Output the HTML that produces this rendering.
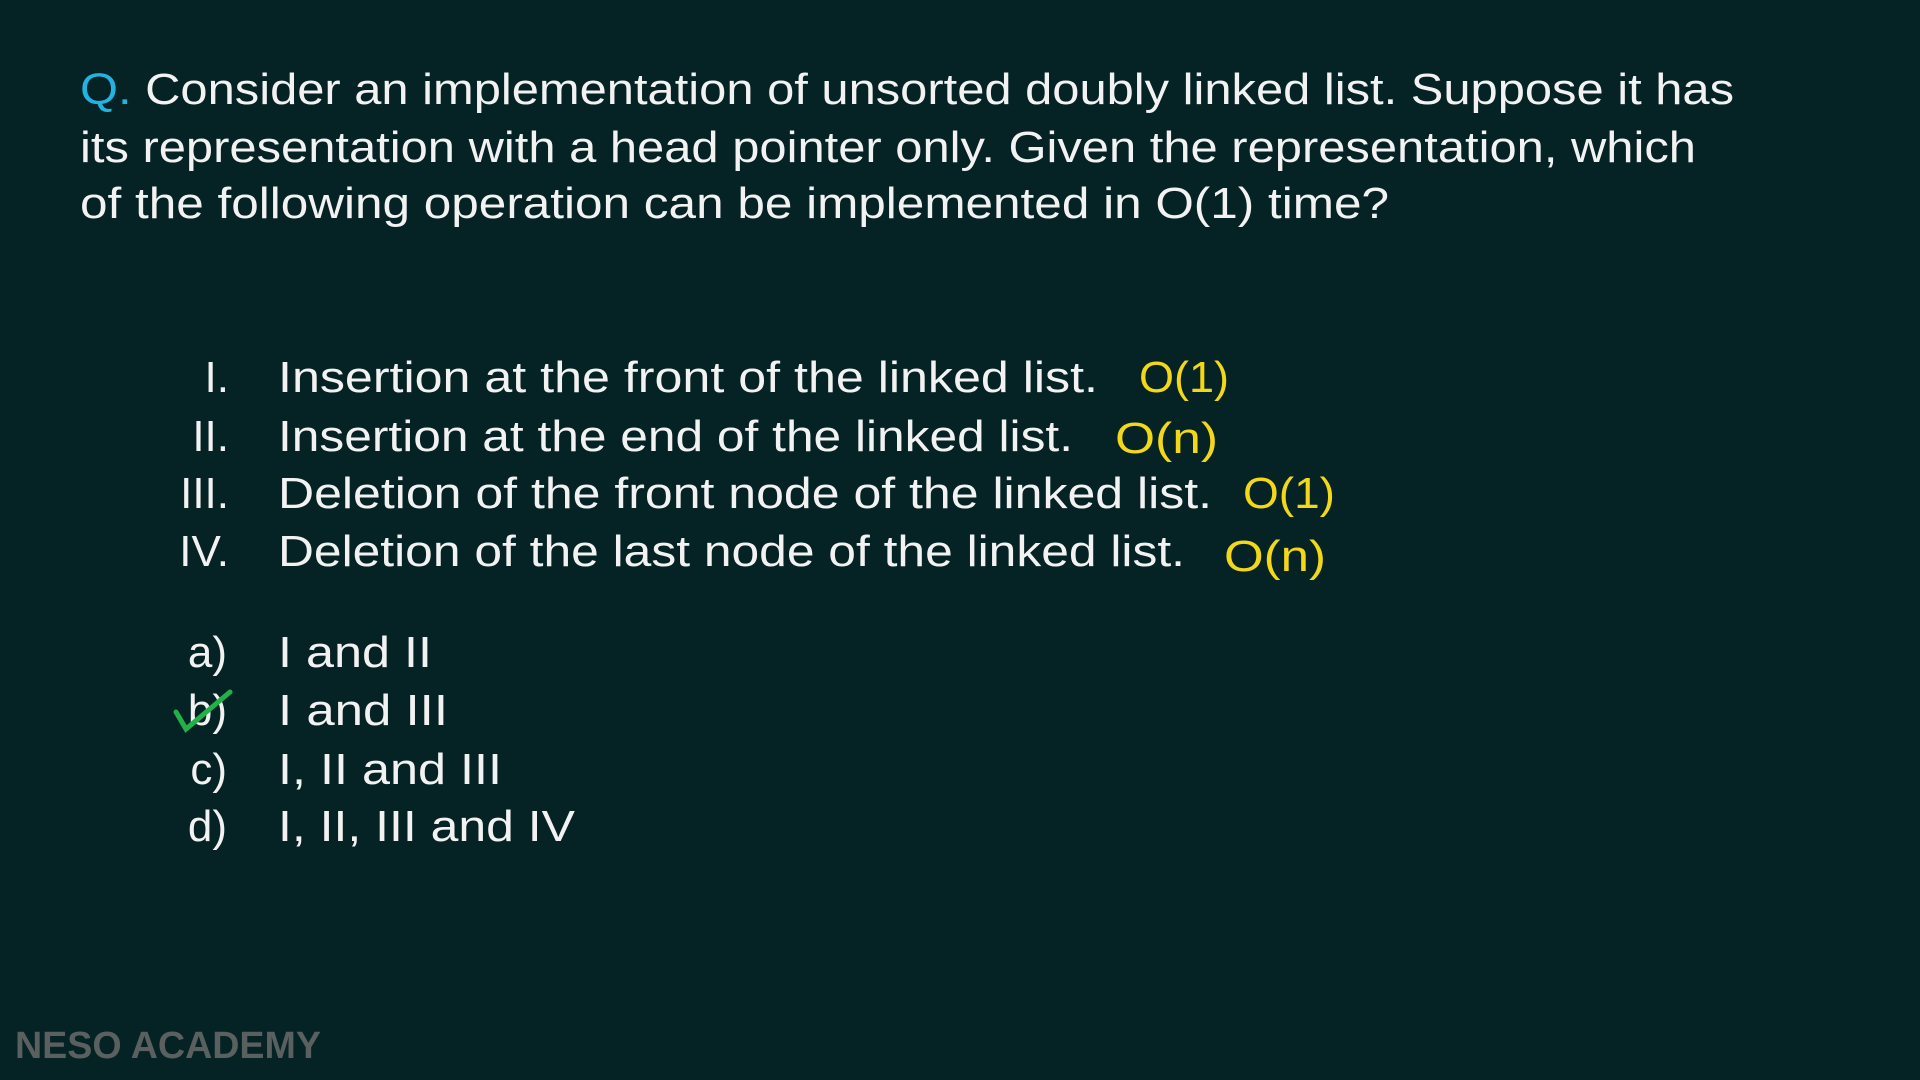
<!DOCTYPE html>
<html><head><meta charset="utf-8"><style>
html,body{margin:0;padding:0;background:#052224;}
svg{display:block}
text{font-family:"Liberation Sans",sans-serif;fill:#f2f2f2;font-size:44px}
.y{fill:#f3d81a}
</style></head><body>
<svg width="1920" height="1080" viewBox="0 0 1920 1080">
<rect width="1920" height="1080" fill="#052224"/>
<text x="80" y="104" textLength="1654" lengthAdjust="spacingAndGlyphs"><tspan fill="#22b3e0">Q.</tspan> Consider an implementation of unsorted doubly linked list. Suppose it has</text>
<text x="80" y="162" textLength="1616" lengthAdjust="spacingAndGlyphs">its representation with a head pointer only. Given the representation, which</text>
<text x="80" y="218" textLength="1309" lengthAdjust="spacingAndGlyphs">of the following operation can be implemented in O(1) time?</text>

<text x="229" y="392" text-anchor="end">I.</text>
<text x="278" y="392" textLength="820" lengthAdjust="spacingAndGlyphs">Insertion at the front of the linked list.</text>
<text class="y" x="1139" y="392" textLength="90" lengthAdjust="spacingAndGlyphs">O(1)</text>

<text x="229" y="451" text-anchor="end">II.</text>
<text x="278" y="451" textLength="795" lengthAdjust="spacingAndGlyphs">Insertion at the end of the linked list.</text>
<text class="y" x="1115" y="453" textLength="103" lengthAdjust="spacingAndGlyphs">O(n)</text>

<text x="229" y="508" text-anchor="end">III.</text>
<text x="278" y="508" textLength="934" lengthAdjust="spacingAndGlyphs">Deletion of the front node of the linked list.</text>
<text class="y" x="1243" y="508" textLength="92" lengthAdjust="spacingAndGlyphs">O(1)</text>

<text x="229" y="566" text-anchor="end">IV.</text>
<text x="278" y="566" textLength="907" lengthAdjust="spacingAndGlyphs">Deletion of the last node of the linked list.</text>
<text class="y" x="1224" y="571" textLength="102" lengthAdjust="spacingAndGlyphs">O(n)</text>

<text x="227" y="667" text-anchor="end">a)</text>
<text x="278" y="667" textLength="154" lengthAdjust="spacingAndGlyphs">I and II</text>
<text x="227" y="725" text-anchor="end">b)</text>
<text x="278" y="725" textLength="170" lengthAdjust="spacingAndGlyphs">I and III</text>
<path d="M176 712 L186 729 L230 692" stroke="#22b04a" stroke-width="5" fill="none" stroke-linecap="round"/>
<text x="227" y="784" text-anchor="end">c)</text>
<text x="278" y="784" textLength="224" lengthAdjust="spacingAndGlyphs">I, II and III</text>
<text x="227" y="841" text-anchor="end">d)</text>
<text x="278" y="841" textLength="297" lengthAdjust="spacingAndGlyphs">I, II, III and IV</text>

<text x="15" y="1058" textLength="306" lengthAdjust="spacingAndGlyphs" style="fill:#5a5f60;font-size:38px;font-weight:bold">NESO ACADEMY</text>
</svg>
</body></html>
